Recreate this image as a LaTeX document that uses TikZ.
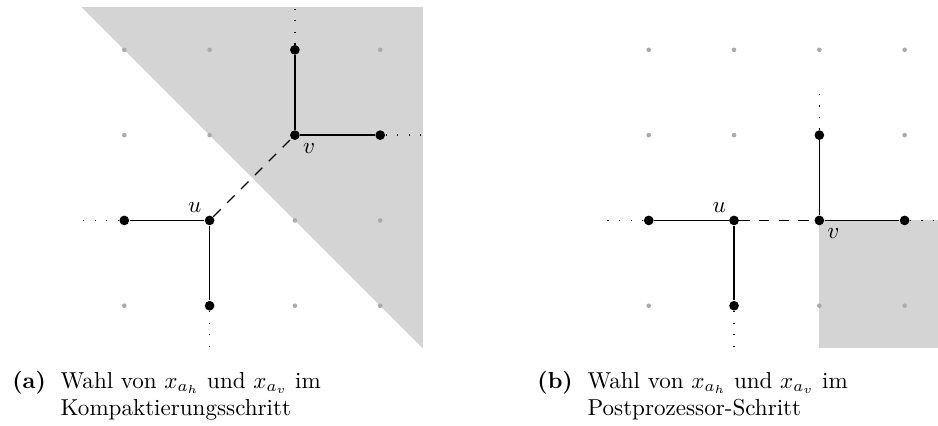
\documentclass[tikz,border=0pt]{standalone}
\tikzset{
  knoten/.style={circle,fill=black,inner sep=0pt,minimum size=4.2pt},
  raster/.style={fill=black!33},
  flaeche/.style={fill=black!17},
  kante/.style={line width=0.55pt},
  stummel/.style={line width=0.6pt,dash pattern=on 0.6pt off 4.4pt},
  wahl/.style={line width=0.55pt,dash pattern=on 4.5pt off 4pt},
  unterschrift/.style={inner sep=0pt,anchor=base west}
}
\begin{document}
\begin{tikzpicture}[x=1.3cm,y=1.3cm]
  \clip (-1.457,-1.399) rectangle (9.539,3.584);

  \fill[flaeche] (-0.5,3.5) -- (3.5,3.5) -- (3.5,-0.5) -- cycle;
  \foreach \x in {0,...,3}
    \foreach \y in {0,...,3}
      \fill[raster] (\x,\y) circle[radius=1pt];

  \node[knoten] (a-u) at (1,1) {};
  \node[knoten] (a-v) at (2,2) {};
  \node[knoten] (a-l) at (0,1) {};
  \node[knoten] (a-d) at (1,0) {};
  \node[knoten] (a-o) at (2,3) {};
  \node[knoten] (a-r) at (3,2) {};
  \coordinate (a-l0) at (-0.5,1);
  \coordinate (a-d0) at (1,-0.5);
  \coordinate (a-o0) at (2,3.5);
  \coordinate (a-r0) at (3.5,2);

  \draw[kante] (a-l) -- (a-u) -- (a-d);
  \draw[kante] (a-o) -- (a-v) -- (a-r);
  \draw[wahl] (a-u) -- (a-v);
  \draw[stummel] (a-l) -- (a-l0);
  \draw[stummel] (a-d) -- (a-d0);
  \draw[stummel] (a-o) -- (a-o0);
  \draw[stummel] (a-r) -- (a-r0);
  \node[above left] (a-ulab) at (a-u.center) {$u$};
  \node[below right] (a-vlab) at (a-v.center) {$v$};

  \begin{scope}[shift={(6.148,0)}]
    \fill[flaeche] (2,1) rectangle (3.5,-0.5);
    \foreach \x in {0,...,3}
      \foreach \y in {0,...,3}
        \fill[raster] (\x,\y) circle[radius=1pt];

    \node[knoten] (b-u) at (1,1) {};
    \node[knoten] (b-v) at (2,1) {};
    \node[knoten] (b-l) at (0,1) {};
    \node[knoten] (b-d) at (1,0) {};
    \node[knoten] (b-o) at (2,2) {};
    \node[knoten] (b-r) at (3,1) {};
    \coordinate (b-l0) at (-0.5,1);
    \coordinate (b-d0) at (1,-0.5);
    \coordinate (b-o0) at (2,2.5);
    \coordinate (b-r0) at (3.5,1);

    \draw[kante] (b-l) -- (b-u) -- (b-d);
    \draw[kante] (b-o) -- (b-v) -- (b-r);
    \draw[wahl] (b-u) -- (b-v);
    \draw[stummel] (b-l) -- (b-l0);
    \draw[stummel] (b-d) -- (b-d0);
    \draw[stummel] (b-o) -- (b-o0);
    \draw[stummel] (b-r) -- (b-r0);
    \node[above left] (b-ulab) at (b-u.center) {$u$};
    \node[below right] (b-vlab) at (b-v.center) {$v$};
  \end{scope}

  \node[unterschrift,font=\bfseries] (a-nr) at (-1.317,-0.965) {(a)};
  \node[unterschrift] (a-text) at ([xshift=6pt]a-nr.base east)
    {\begin{tabular}[t]{@{}l@{}}Wahl von $x_{a_h}$ und $x_{a_v}$ im\\Kompaktierungsschritt\end{tabular}};
  \node[unterschrift,font=\bfseries] (b-nr) at (4.838,-0.965) {(b)};
  \node[unterschrift] (b-text) at ([xshift=6pt]b-nr.base east)
    {\begin{tabular}[t]{@{}l@{}}Wahl von $x_{a_h}$ und $x_{a_v}$ im\\Postprozessor-Schritt\end{tabular}};
\end{tikzpicture}
\end{document}
